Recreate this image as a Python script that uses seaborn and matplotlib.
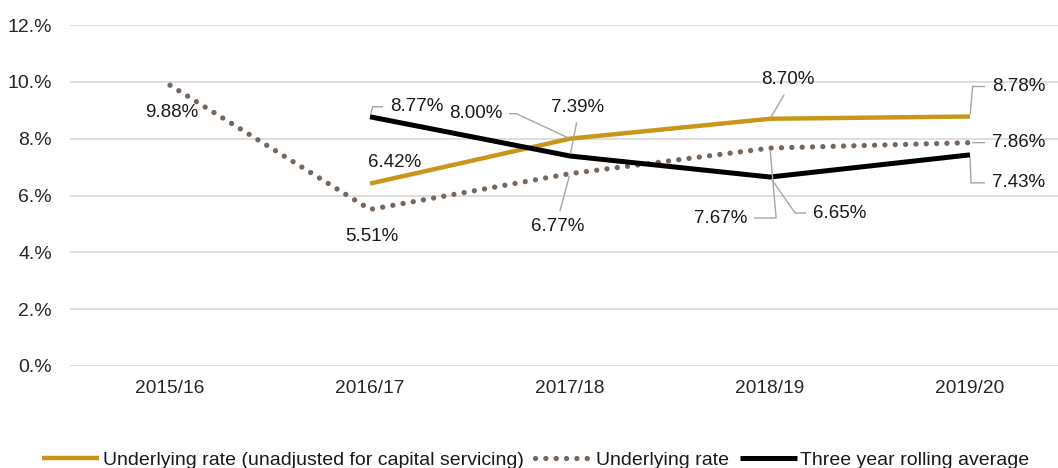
import numpy as np
import pandas as pd
import matplotlib
matplotlib.use("Agg")
import matplotlib.pyplot as plt
from matplotlib.ticker import FuncFormatter
import seaborn as sns

years = ["2015/16", "2016/17", "2017/18", "2018/19", "2019/20"]
unadjusted = [np.nan, 6.42, 8.00, 8.70, 8.78]
underlying = [9.88, 5.51, 6.77, 7.67, 7.86]
rolling = [np.nan, 8.77, 7.39, 6.65, 7.43]

names = ["Underlying rate (unadjusted for capital servicing)",
         "Underlying rate",
         "Three year rolling average"]

df = pd.DataFrame({"idx": np.arange(len(years)), "year": years,
                   names[0]: unadjusted, names[1]: underlying, names[2]: rolling})

sns.set_style("white")
plt.rcParams["font.family"] = ["Liberation Sans", "DejaVu Sans"]

fig = plt.figure(figsize=(10.58, 4.68), dpi=100)
ax = fig.add_axes([70 / 1058, 102 / 468, 1000 / 1058, 341 / 468])

gold = "#C9961A"
taupe = "#76665B"

sns.lineplot(data=df, x="idx", y=names[0], ax=ax, color=gold, lw=3.2,
             label=names[0], solid_capstyle="butt")
sns.lineplot(data=df, x="idx", y=names[1], ax=ax, color=taupe, lw=3.8,
             label=names[1], dashes=False)
ax.lines[-1].set_linestyle((0, (0.01, 1.95)))
ax.lines[-1].set_dash_capstyle("round")
sns.lineplot(data=df, x="idx", y=names[2], ax=ax, color="black", lw=3.6,
             label=names[2], solid_capstyle="butt")

ax.set_xlim(-0.5, 4.5)
ax.set_ylim(0, 12)
ax.set_yticks(np.arange(0, 13, 2))
ax.yaxis.set_major_formatter(FuncFormatter(lambda v, p: f"{int(v)}.%"))
ax.set_xticks(df["idx"])
ax.set_xticklabels(years)
ax.set_xlabel("")
ax.set_ylabel("")
ax.tick_params(axis="y", labelsize=14, length=0, pad=13, colors="#262626")
ax.tick_params(axis="x", labelsize=13.8, length=0, pad=10, colors="#262626")
ax.grid(axis="y", color="#D9D9D9", lw=1.2)
ax.set_axisbelow(True)
for s in ax.spines.values():
    s.set_visible(False)

lead = "#A6A6A6"

def label(i, v, dx, dy, ha="center", va="center", relpos=None, conn=None):
    arrow = None
    if relpos is not None:
        arrow = dict(arrowstyle="-", color=lead, lw=1, relpos=relpos,
                     shrinkA=3, shrinkB=2,
                     connectionstyle=conn or "arc3")
    ax.annotate(f"{v:.2f}%", xy=(i, v), xytext=(dx, dy),
                textcoords="offset pixels", ha=ha, va=va, fontsize=13.5,
                color="#1a1a1a", arrowprops=arrow, annotation_clip=False)

# underlying rate
label(0, underlying[0], 2, -27)
label(1, underlying[1], 2, -27)
label(2, underlying[2], -12, -53, relpos=(0.5, 1))
label(3, underlying[3], -23, -70, ha="right", relpos=(1, 0.5),
      conn="angle,angleA=0,angleB=95,rad=0")
label(4, underlying[4], 22, 0, ha="left", relpos=(0, 0.5))

# unadjusted
label(1, unadjusted[1], 25, 21)
label(2, unadjusted[2], -68, 25, ha="right", relpos=(1, 0.5),
      conn="angle,angleA=0,angleB=-25,rad=0")
label(3, unadjusted[3], 18, 39, relpos=(0.5, 0))
label(4, unadjusted[4], 22, 30, ha="left", relpos=(0, 0.5),
      conn="angle,angleA=0,angleB=85,rad=0")

# rolling average
label(1, rolling[1], 20, 10, ha="left", relpos=(0, 0.5),
      conn="angle,angleA=0,angleB=75,rad=0")
label(2, rolling[2], 8, 49, relpos=(0.5, 0))
label(3, rolling[3], 43, -36, ha="left", relpos=(0, 0.5),
      conn="angle,angleA=0,angleB=-55,rad=0")
label(4, rolling[4], 22, -28, ha="left", relpos=(0, 0.5),
      conn="angle,angleA=0,angleB=-88,rad=0")

handles, labels_ = ax.get_legend_handles_labels()
ax.get_legend().remove()
fig.legend(handles, labels_, loc="center", bbox_to_anchor=(536 / 1058, 8 / 468),
           ncol=3, frameon=False, fontsize=14, handlelength=2.9,
           handletextpad=0.2, columnspacing=0.6, labelcolor="#1a1a1a")

fig.savefig("out.png", dpi=100)
